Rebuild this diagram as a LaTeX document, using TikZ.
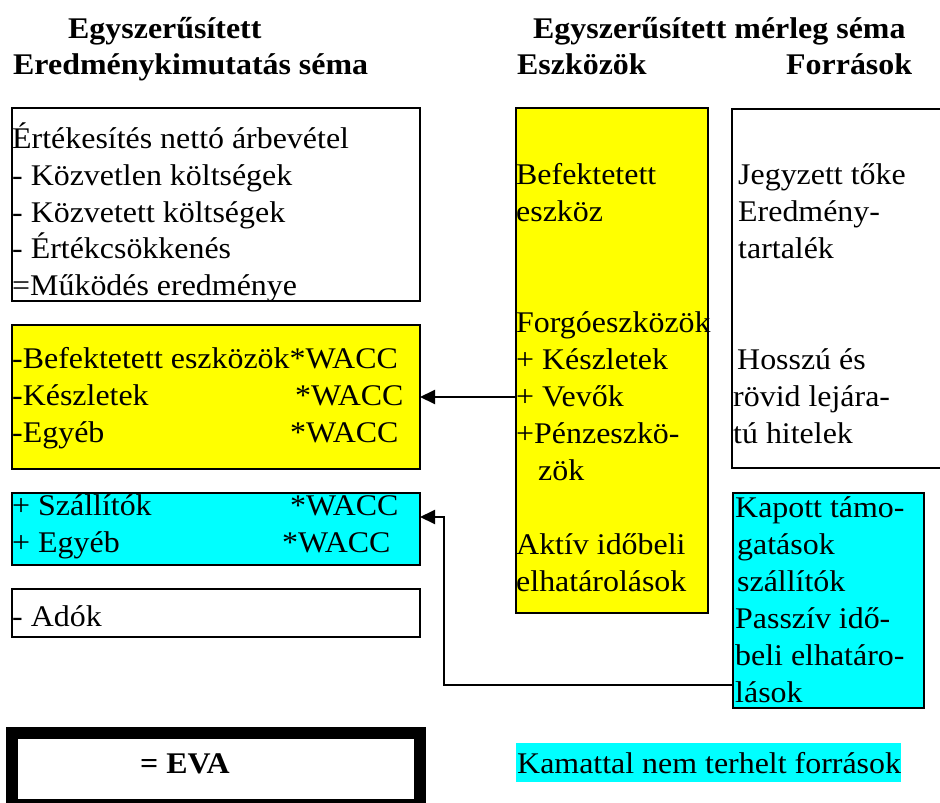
\documentclass[tikz,border=0pt]{standalone}
\usepackage{fontspec}
\setmainfont[FakeStretch=1.064]{Liberation Serif}
\usetikzlibrary{arrows.meta}
\definecolor{hlyellow}{RGB}{255,255,0}
\definecolor{hlcyan}{RGB}{0,255,255}

\begin{document}
\begin{tikzpicture}[x=1pt,y=-1pt,
  box/.style={draw=black,line width=2pt,inner sep=0pt,outer sep=0pt,anchor=north west},
  txt/.style={anchor=base west,inner sep=0pt,font=\fontsize{30}{37}\selectfont},
  head/.style={anchor=base west,inner sep=0pt,font=\fontsize{30}{36}\selectfont\bfseries},
  arr/.style={line width=2pt,-{Triangle[length=15pt,width=14pt]}}]
\useasboundingbox (0,0) rectangle (940,803);

% headings
\node[head] (h1) at (68,38) {Egyszerűsített};
\node[head] (h2) at (13,74) {Eredménykimutatás séma};
\node[head] (h3) at (533,38) {Egyszerűsített mérleg séma};
\node[head] (h4) at (517,74) {Eszközök};
\node[head] (h5) at (786,74) {Források};

% income statement side
\node[box,minimum width=408pt,minimum height=193pt] (inc) at (12,108) {};
\node[box,fill=hlyellow,minimum width=408pt,minimum height=144pt] (wacc) at (12,325) {};
\node[box,fill=hlcyan,minimum width=408pt,minimum height=72pt] (nonint) at (12,493) {};
\node[box,minimum width=408pt,minimum height=48pt] (tax) at (12,589) {};
\node[box,line width=12pt,minimum width=408pt,minimum height=72pt] (eva) at (12,733) {};

\node[txt] (i1) at (12,148) {Értékesítés nettó árbevétel};
\node[txt] (i2) at (12,185) {- Közvetlen költségek};
\node[txt] (i3) at (12,222) {- Közvetett költségek};
\node[txt] (i4) at (12,258) {- Értékcsökkenés};
\node[txt] (i5) at (12,295) {=Működés eredménye};

\node[txt] (w1) at (12,368) {-Befektetett eszközök*WACC};
\node[txt] (w2) at (12,405) {-Készletek};
\node[txt] (w2r) at (295,405) {*WACC};
\node[txt] (w3) at (12,442) {-Egyéb};
\node[txt] (w3r) at (290,442) {*WACC};

\node[txt] (n1) at (12,515) {+ Szállítók};
\node[txt] (n1r) at (290,515) {*WACC};
\node[txt] (n2) at (12,552) {+ Egyéb};
\node[txt] (n2r) at (282,552) {*WACC};

\node[txt] (t1) at (12,626) {- Adók};

\node[head] (evat) at (140,773) {= EVA};

% balance sheet side
\node[box,fill=hlyellow,minimum width=192pt,minimum height=505pt] (assets) at (516,108) {};
\node[box,minimum width=230pt,minimum height=359pt] (equity) at (732,109) {};
\node[box,fill=hlcyan,minimum width=191pt,minimum height=215pt] (deferred) at (733,493) {};

\node[txt] (a1) at (516,184) {Befektetett};
\node[txt] (a2) at (516,221) {eszköz};
\node[txt] (a3) at (516,332) {Forgóeszközök};
\node[txt] (a4) at (516,369) {+ Készletek};
\node[txt] (a5) at (516,406) {+ Vevők};
\node[txt] (a6) at (516,443) {+Pénzeszkö-};
\node[txt] (a7) at (538,480) {zök};
\node[txt] (a8) at (516,554) {Aktív időbeli};
\node[txt] (a9) at (516,591) {elhatárolások};

\node[txt] (e1) at (738,184) {Jegyzett tőke};
\node[txt] (e2) at (738,221) {Eredmény-};
\node[txt] (e3) at (738,258) {tartalék};
\node[txt] (e4) at (737,369) {Hosszú és};
\node[txt] (e5) at (733,406) {rövid lejára-};
\node[txt] (e6) at (733,443) {tú hitelek};

\node[txt] (d1) at (735,517) {Kapott támo-};
\node[txt] (d2) at (737,554) {gatások};
\node[txt] (d3) at (737,591) {szállítók};
\node[txt] (d4) at (735,628) {Passzív idő-};
\node[txt] (d5) at (735,665) {beli elhatáro-};
\node[txt] (d6) at (735,702) {lások};

\node[box,draw=none,fill=hlcyan,minimum width=385pt,minimum height=39pt] (legend) at (516,743) {};
\node[txt] (legendt) at (517,773) {Kamattal nem terhelt források};

% connectors
\coordinate (recv) at (516,397);
\coordinate (bend) at (444,685);
\coordinate (entry) at (444,517);
\draw[arr] (assets.west |- recv) -- (wacc.east |- recv);
\draw[arr] (deferred.west |- bend) -- (bend) -- (entry) -- (nonint.east |- entry);
\end{tikzpicture}
\end{document}
